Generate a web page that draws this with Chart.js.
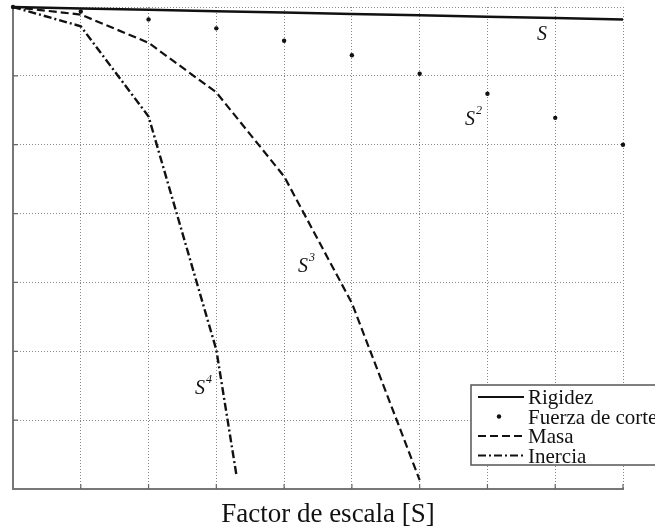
<!DOCTYPE html>
<html lang="es">
<head>
<meta charset="UTF-8" />
<title>Factor de escala</title>
<script src="https://cdn.jsdelivr.net/npm/chart.js"></script>
<style>
  body { margin: 0; background: #fff; }
  #wrap { width: 655px; height: 531px; }
</style>
</head>
<body>
<div id="wrap"><canvas id="grafico" width="655" height="531"></canvas></div>
<script>
// valores (eje y sin etiquetas, 7 divisiones)
const factorEscala = [1, 2, 3, 4, 5, 6, 7, 8, 9, 10];
const rigidez = [0, -0.02, -0.04, -0.06, -0.08, -0.10, -0.12, -0.14, -0.16, -0.18];
const fuerzaCorte = [0, -0.065, -0.18, -0.31, -0.49, -0.70, -0.97, -1.26, -1.61, -2.0];
const masaX = [1, 2, 3, 4, 5, 6, 7];
const masa = [0, -0.11, -0.52, -1.24, -2.46, -4.30, -6.87];
const inerciaX = [1, 2, 3, 4, 4.3];
const inercia = [0, -0.28, -1.59, -4.98, -6.82];

const etiquetas = [
  { texto: "S", sup: "", x: 537, y: 40 },
  { texto: "S", sup: "2", x: 465, y: 125 },
  { texto: "S", sup: "3", x: 298, y: 272 },
  { texto: "S", sup: "4", x: 195, y: 394 }
];

function puntos(xs, ys) {
  return xs.map((x, i) => ({ x: x, y: ys[i] }));
}

const DASH_MASA = [8, 4];
const DASH_INERCIA = [8, 3, 2, 3];

// marcas hacia dentro, etiquetas S^n, leyenda y titulo del eje
const extras = {
  id: "extras",
  afterDraw(chart) {
    const ctx = chart.ctx;
    const a = chart.chartArea;
    const sx = chart.scales.x, sy = chart.scales.y;
    ctx.save();
    ctx.strokeStyle = "#666";
    ctx.lineWidth = 1.2;
    ctx.beginPath();
    for (let v = 2; v <= 10; v++) {
      const px = sx.getPixelForValue(v);
      ctx.moveTo(px, a.bottom); ctx.lineTo(px, a.bottom - 5);
    }
    for (let v = -6; v <= -1; v++) {
      const py = sy.getPixelForValue(v);
      ctx.moveTo(a.left, py); ctx.lineTo(a.left + 5, py);
    }
    ctx.stroke();

    ctx.fillStyle = "#111";
    etiquetas.forEach(e => {
      ctx.font = "italic 20px 'Liberation Serif'";
      ctx.fillText(e.texto, e.x, e.y);
      if (e.sup) {
        const w = ctx.measureText(e.texto).width;
        ctx.font = "italic 12px 'Liberation Serif'";
        ctx.fillText(e.sup, e.x + w + 1, e.y - 11);
      }
    });

    // leyenda
    const lx = 471, ly = 385;
    ctx.fillStyle = "#fff";
    ctx.fillRect(lx, ly, 200, 80);
    ctx.strokeStyle = "#555";
    ctx.lineWidth = 1.5;
    ctx.strokeRect(lx, ly, 200, 80);
    const nombres = ["Rigidez", "Fuerza de corte", "Masa", "Inercia"];
    const dashes = [[], null, DASH_MASA, DASH_INERCIA];
    ctx.font = "21px 'Liberation Serif'";
    nombres.forEach((n, i) => {
      const base = 404 + i * 19.5;
      const ym = base - 7;
      ctx.strokeStyle = "#111";
      ctx.fillStyle = "#111";
      if (dashes[i] === null) {
        ctx.beginPath();
        ctx.arc(499, ym, 2.2, 0, Math.PI * 2);
        ctx.fill();
      } else {
        ctx.setLineDash(dashes[i]);
        ctx.lineWidth = 2;
        ctx.beginPath();
        ctx.moveTo(478, ym); ctx.lineTo(524, ym);
        ctx.stroke();
        ctx.setLineDash([]);
      }
      ctx.fillText(n, 528, base);
    });

    ctx.font = "27px 'Liberation Serif'";
    ctx.textAlign = "center";
    ctx.fillStyle = "#111";
    ctx.fillText("Factor de escala [S]", 328, 522);
    ctx.restore();
  }
};

new Chart(document.getElementById("grafico"), {
  type: "scatter",
  data: {
    datasets: [
      {
        label: "Rigidez",
        data: puntos(factorEscala, rigidez),
        showLine: true, borderColor: "#111", borderWidth: 2.5,
        pointRadius: 0, clip: false
      },
      {
        label: "Fuerza de corte",
        data: puntos(factorEscala, fuerzaCorte),
        showLine: false, pointRadius: 2.2,
        pointBackgroundColor: "#111", pointBorderWidth: 0, clip: false
      },
      {
        label: "Masa",
        data: puntos(masaX, masa),
        showLine: true, borderColor: "#111", borderWidth: 2.2,
        borderDash: DASH_MASA, pointRadius: 0, clip: false
      },
      {
        label: "Inercia",
        data: puntos(inerciaX, inercia),
        showLine: true, borderColor: "#111", borderWidth: 2.4,
        borderDash: DASH_INERCIA, pointRadius: 0, clip: false
      }
    ]
  },
  options: {
    responsive: false,
    animation: false,
    layout: { padding: { left: 13, top: 7, right: 32, bottom: 42 } },
    plugins: { legend: { display: false }, tooltip: { enabled: false } },
    scales: {
      x: {
        type: "linear", min: 1, max: 10,
        ticks: { display: false, stepSize: 1 },
        grid: { color: "#888", lineWidth: 1, drawTicks: false },
        border: { display: true, color: "#777", width: 2, dash: [1, 2] }
      },
      y: {
        type: "linear", min: -7, max: 0,
        ticks: { display: false, stepSize: 1 },
        grid: { color: "#888", lineWidth: 1, drawTicks: false },
        border: { display: true, color: "#777", width: 2, dash: [1, 2] }
      }
    }
  },
  plugins: [extras]
});
</script>
</body>
</html>
